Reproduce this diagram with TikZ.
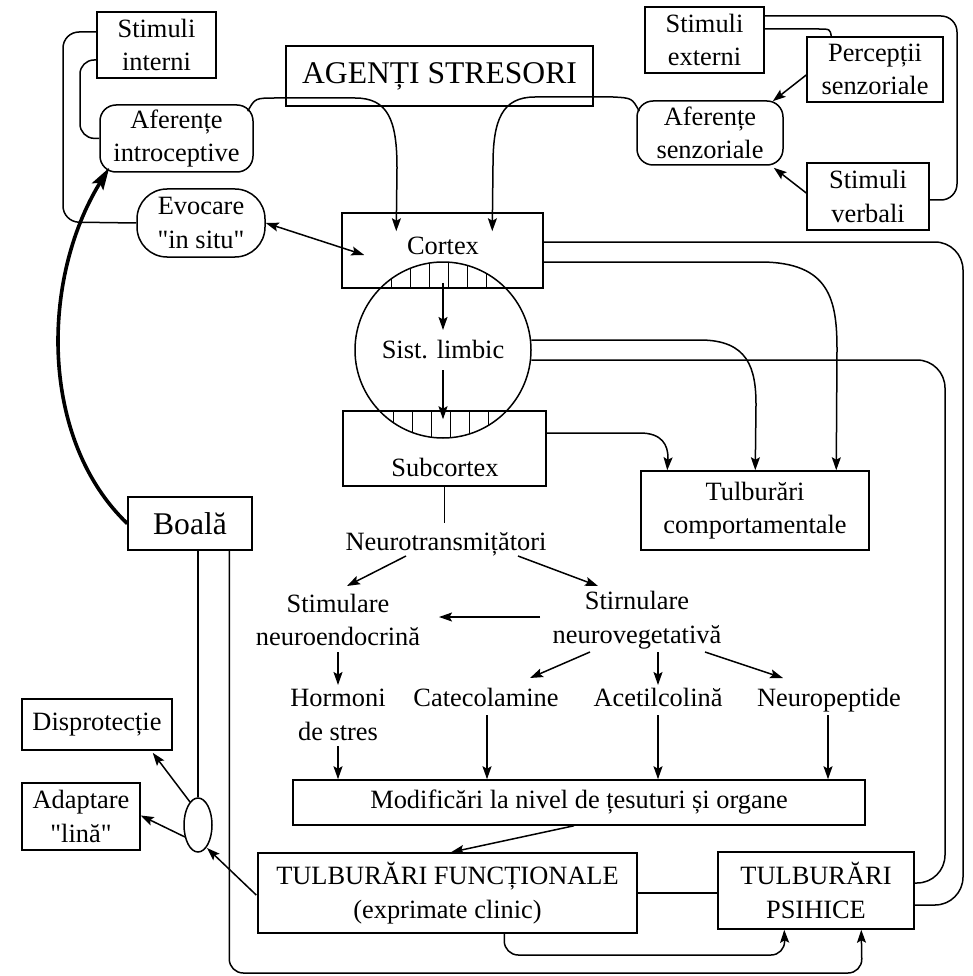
\documentclass[tikz,border=0pt]{standalone}
\usepackage{fontspec}
\setmainfont{Liberation Serif}
\usetikzlibrary{arrows.meta,calc,shapes.geometric}

\begin{document}
\begin{tikzpicture}[x=1pt,y=-1pt,
  line width=1.5pt,
  >={Stealth[length=13pt,width=9pt,inset=2.5pt]},
  font=\fontsize{26.4}{33.5}\selectfont,
  box/.style={draw,rectangle,inner sep=0pt,align=center},
  rbox/.style={box,rounded corners=16pt},
  txt/.style={inner sep=0pt,align=center},
  big/.style={font=\fontsize{31.6}{36}\selectfont},
  hatch/.style={line width=1pt},
  thick arrow/.style={line width=3.6pt,-{Stealth[length=22pt,width=13pt,inset=4pt]}},
]
\useasboundingbox (0,0) rectangle (973,976);

% ---- input side ----
\node[box,minimum width=119pt,minimum height=66pt] (stint) at (156.5,45) {Stimuli\\interni};
\node[rbox,minimum width=153pt,minimum height=67pt] (afint) at (176.5,138.5) {Aferențe\\introceptive};
\node[box,rounded corners=30pt,minimum width=128pt,minimum height=68pt] (evoc) at (201,223) {Evocare\\\textquotedbl in situ\textquotedbl};
\node[box,big,minimum width=307pt,minimum height=60pt] (agenti) at (439.5,76) {AGENȚI STRESORI};
\node[box,minimum width=119pt,minimum height=66pt] (stext) at (704.5,40) {Stimuli\\externi};
\node[box,minimum width=136pt,minimum height=65pt] (perc) at (875,69.5) {Percepții\\senzoriale};
\node[rbox,minimum width=146pt,minimum height=64pt] (afsenz) at (710,133) {Aferențe\\senzoriale};
\node[box,minimum width=122pt,minimum height=67pt] (sverb) at (868,196.5) {Stimuli\\verbali};

% ---- brain levels ----
\node[box,minimum width=201pt,minimum height=75pt] (cortex) at (442.5,250.5) {};
\node[txt] (cortexlabel) at (443,246) {Cortex};
\node[draw,circle,inner sep=0pt,minimum size=176pt] (limbic) at (443,350) {Sist. limbic};
\node[box,minimum width=203pt,minimum height=75pt] (subcortex) at (444.5,448.5) {};
\node[txt] (subcortexlabel) at (445,467) {Subcortex};

% hatched overlaps between the circle and the two boxes
\begin{scope}
  \clip (limbic.center) circle (88pt);
  \clip (cortex.south west) rectangle (cortex.north east);
  \foreach \k in {-1,...,6} \draw[hatch] (391+19*\k,250) -- (391+19*\k,300);
\end{scope}
\begin{scope}
  \clip (limbic.center) circle (88pt);
  \clip (subcortex.south west) rectangle (subcortex.north east);
  \foreach \k in {-1,...,6} \draw[hatch] (393+19*\k,400) -- (393+19*\k,450);
\end{scope}

\node[box,minimum width=228pt,minimum height=79pt] (tcomp) at (755,510.5) {Tulburări\\comportamentale};
\node[box,big,minimum width=124pt,minimum height=53pt] (boala) at (190,523.5) {Boală};

% ---- mediators ----
\node[txt,anchor=base] (neurot) at (446,550) {Neurotransmițători};
\node[txt] (sne) at (338,620) {Stimulare\\neuroendocrină};
\node[txt] (snv) at (637,620) {Stirnulare\\neurovegetativă};
\node[txt] (horm) at (338,715) {Hormoni\\de stres};
\node[txt,anchor=base] (cate) at (486,706) {Catecolamine};
\node[txt,anchor=base] (acet) at (658,706) {Acetilcolină};
\node[txt,anchor=base] (neurop) at (829,706) {Neuropeptide};
\node[box,minimum width=572pt,minimum height=45pt] (modif) at (579,802.5) {Modificări la nivel de țesuturi și organe};
\node[box,minimum width=379pt,minimum height=80pt] (tfunc) at (447.5,893) {TULBURĂRI FUNCȚIONALE\\(exprimate clinic)};
\node[box,minimum width=196pt,minimum height=77pt] (tpsih) at (816,890.5) {TULBURĂRI\\PSIHICE};

% ---- outcomes ----
\node[box,minimum width=150pt,minimum height=51pt] (dispr) at (97,724.5) {Disprotecție};
\node[box,minimum width=118pt,minimum height=67pt] (adapt) at (81,816.5) {Adaptare\\\textquotedbl lină\textquotedbl};
\node[draw,ellipse,inner sep=0pt,minimum width=28pt,minimum height=54pt] (ell) at (198,825) {};

% ---- connectors: input side ----
\draw[rounded corners=16pt] (stint.west |- 0,32) -| (63,222) -- (evoc.west);
\draw[rounded corners=14pt] (stint.west |- 0,60) -| (80,138) -- (afint.west);
\draw[->] ($(afint.north east)+(-6,7)$) .. controls (255,98) .. (277,98) -- (355,98)
  .. controls (388,98) and (397,120) .. (397,168) -- ($(cortex.north west)+(55,19)$);
\draw[->] ($(afsenz.north west)+(3,11)$) .. controls (632,98) .. (613,97) -- (535,97)
  .. controls (502,97) and (493,120) .. (493,165) -- ($(cortex.north west)+(151,19)$);
\draw[rounded corners=16pt] (stext.east |- 0,16) -| (957,200) -- (sverb.east |- 0,200);
\draw (stext.east |- 0,29) -- (818,29) .. controls (830,29) .. ($(perc.north west)+(25,0)$);
\draw[->] (perc.west |- 0,75) -- ($(afsenz.north east)+(-11,1)$);
\draw[->] (sverb.west |- 0,193) -- ($(afsenz.south east)+(-10,2)$);
\draw[<->] (evoc.east) -- ($(cortex.west)+(23,4.5)$);

% ---- connectors: brain ----
\draw[->] ($(cortex.south)+(0.5,-6)$) -- ($(limbic.center)+(0,-20)$);
\draw[->] ($(limbic.center)+(0,20)$) -- ($(limbic.center |- subcortex.north)+(0,9)$);
\draw[->] (cortex.east |- 0,262) -- (760,262) .. controls (830,262) and (837,300) .. (837,350)
  -- ($(tcomp.north west)+(196,0)$);
\draw[->] ($(limbic.east)+(-0.5,-10)$) -- (700,340) .. controls (748,340) and (756,368) .. (756,405)
  -- ($(tcomp.north west)+(115,0)$);
\draw[->] (subcortex.east |- 0,433) -- (640,433) .. controls (662,433) and (668,445) .. (668,458)
  -- ($(tcomp.north west)+(27,0)$);
\draw[rounded corners=28pt] ($(limbic.east)+(-0.5,10)$) -| (945,883) -- (tpsih.east |- 0,883);
\draw[rounded corners=28pt] (cortex.east |- 0,242) -| (963,905) -- (tpsih.east |- 0,905);

% ---- connectors: mediators ----
\draw (subcortex.south) -- (subcortex.south |- 0,523);
\draw[->] ($(neurot.base)+(-40,6)$) -- ($(sne)+(9,-34)$);
\draw[->] ($(neurot.base)+(72,6)$) -- ($(snv)+(-39,-34)$);
\draw[->] ($(snv)+(-97,-3)$) -- ($(sne)+(101,-3)$);
\draw[->] ($(sne)+(0,32)$) -- ($(horm)+(0,-30)$);
\draw[->] ($(snv)+(-47,32)$) -- ($(cate.base)+(44,-28)$);
\draw[->] ($(snv)+(21,32)$) -- ($(acet.base)+(0,-21)$);
\draw[->] ($(snv)+(68,32)$) -- ($(neurop.base)+(-46,-28)$);
\draw[->] ($(horm)+(0,31)$) -- (modif.north -| horm);
\draw[->] ($(cate.base)+(1,9)$) -- ($(modif.north -| cate)+(1,0)$);
\draw[->] ($(acet.base)+(0,9)$) -- (modif.north -| acet);
\draw[->] ($(neurop.base)+(-1,9)$) -- ($(modif.north -| neurop)+(-1,0)$);
\draw[->] ($(modif.south)+(-5,0)$) -- ($(tfunc.north)+(3.5,0)$);
\draw (tfunc.east |- 0,893) -- (tpsih.west |- 0,893);
\draw[->,rounded corners=14pt] ($(tfunc.south west)+(247,0)$) |- (785,955) -- ($(tpsih.south west)+(67,0)$);
\draw[->,rounded corners=14pt] ($(boala.south west)+(102,0)$) |- (862,973) -- ($(tpsih.south west)+(144,0)$);

% ---- connectors: outcomes ----
\draw[thick arrow] (boala.west) .. controls (40,440) and (40,280) .. ($(afint.south west)+(10,-5)$);
\draw (ell.north |- boala.south) -- (ell.north);
\draw[->] ($(ell)+(-8,-23)$) -- ($(dispr.south east)+(-20,2)$);
\draw[->] ($(ell)+(-13,12)$) -- ($(adapt.east)+(0,-1)$);
\draw[->] ($(tfunc.west)+(-1,2)$) -- ($(ell)+(9,23)$);
\end{tikzpicture}
\end{document}
